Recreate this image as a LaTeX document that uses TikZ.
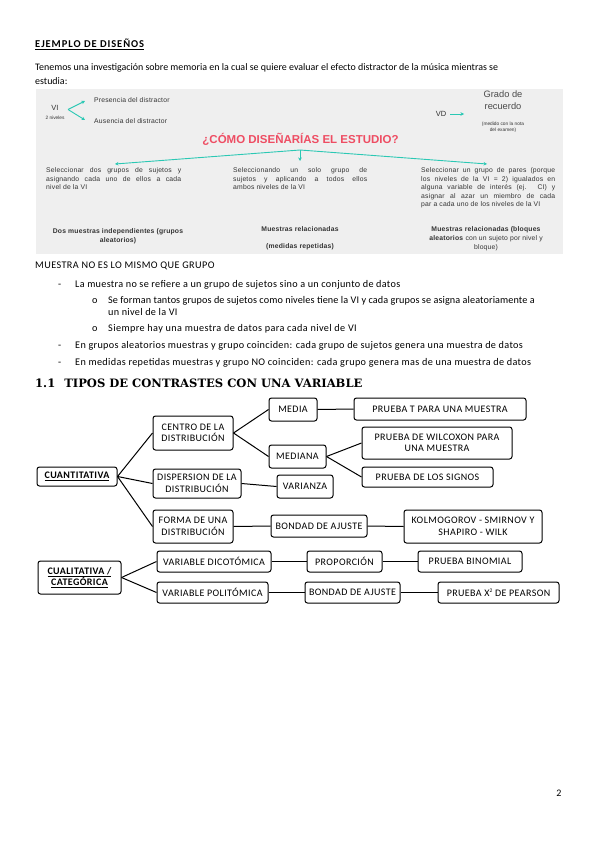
\documentclass[tikz,border=0pt]{standalone}
\usepackage{fontspec}
\setmainfont{Carlito}
\newfontfamily\gfont[LetterSpace=3]{Liberation Sans}
\newfontfamily\gplain{Liberation Sans}
\newfontfamily\hfont{DejaVu Serif}
\newfontfamily\tfont[LetterSpace=4]{Carlito}
\usetikzlibrary{arrows.meta}
\definecolor{tealc}{HTML}{2BC8B4}
\definecolor{redc}{HTML}{EE4D63}
\definecolor{greybg}{HTML}{EFEFEF}
\definecolor{gtext}{HTML}{333333}
\definecolor{gmid}{HTML}{4A4A4A}
\newcommand{\jl}[2]{\makebox[#1][s]{#2}}
\newcommand{\ls}[1]{\addfontfeatures{LetterSpace=#1}}
\begin{document}
\begin{tikzpicture}[x=1pt,y=-1pt,
  txt/.style={anchor=base west, inner sep=0pt, font=\fontsize{10.2}{12}\selectfont},
  gline/.style={anchor=base west, inner sep=0pt, text=gtext, font=\gfont\fontsize{6.8}{7}\selectfont},
  glab/.style={anchor=base, inner sep=0pt, text=gtext, font=\gfont\fontsize{6.8}{7}\selectfont},
  tarrow/.style={draw=tealc, line width=0.9pt, -{Stealth[length=3.5pt,width=3.5pt]}},
  tbox/.style={draw, rounded corners=2.5pt, line width=1pt, align=center, inner sep=0pt, font=\tfont\fontsize{10}{11.5}\selectfont},
  conn/.style={line width=1pt}
]
\fill[white] (0,0) rectangle (599,848);
\useasboundingbox (0,0) rectangle (599,848);

% header text
\node[txt] (t1) at (35,48) {\fontsize{10.5}{12}\selectfont\ls{9}\textbf{\underline{EJEMPLO DE DISEÑOS}}};
\node[txt] (t2) at (35,71) {\fontsize{9.95}{12}\selectfont Tenemos una investigación sobre memoria en la cual se quiere evaluar el efecto distractor de la música mientras se};
\node[txt] (t3) at (35,85) {\fontsize{9.95}{12}\selectfont estudia:};

% grey panel
\fill[greybg] (36,89) rectangle (563,254);

\node[inner sep=0pt, text=gtext, font=\gplain\fontsize{7.5}{8}\selectfont] (vi) at (55,108) {VI};
\node[inner sep=0pt, text=gtext, font=\gplain\fontsize{4.8}{5}\selectfont] (niv) at (55,117.5) {2 niveles};
\coordinate (vis) at (68,109.5);
\coordinate (pe) at (85,101);
\coordinate (ae) at (85,120);
\draw[tarrow] (vis) -- (pe);
\draw[tarrow] (vis) -- (ae);
\node[gline, anchor=west] (pres) at (94,100) {Presencia del distractor};
\node[gline, anchor=west] (aus) at (94,121.5) {Ausencia del distractor};

\node[inner sep=0pt, text=gtext, font=\gplain\fontsize{7.5}{8}\selectfont] (vd) at (441,114) {VD};
\coordinate (vds) at (450,114);
\coordinate (vde) at (464,114);
\draw[tarrow] (vds) -- (vde);
\node[inner sep=0pt, text=gmid, align=center, font=\gplain\fontsize{9.3}{12}\selectfont] (grado) at (503,100) {Grado de\\recuerdo};
\node[inner sep=0pt, text=gtext, align=center, font=\gplain\fontsize{4.8}{6.5}\selectfont] (med) at (503,127.5) {(medido con la nota\\del examen)};

\node[inner sep=0pt, text=redc, font=\gplain\bfseries\fontsize{11.5}{13}\selectfont] (como) at (300.5,139) {¿CÓMO DISEÑARÍAS EL ESTUDIO?};

\coordinate (hub) at (300,150);
\coordinate (la) at (115,164);
\coordinate (ma) at (300,161);
\coordinate (ra) at (487,164);
\draw[tarrow] (hub) -- (la);
\draw[tarrow] (hub) -- (ma);
\draw[tarrow] (hub) -- (ra);

% left block
\node[gline] (l1) at (46,172.5) {\jl{135pt}{Seleccionar dos grupos de sujetos y}};
\node[gline] (l2) at (46,181) {\jl{135pt}{asignando cada uno de ellos a cada}};
\node[gline] (l3) at (46,189.5) {nivel de la VI};
% middle block
\node[gline] (m1) at (233,172.5) {\jl{134pt}{Seleccionando un solo grupo de}};
\node[gline] (m2) at (233,181) {\jl{134pt}{sujetos y aplicando a todos ellos}};
\node[gline] (m3) at (233,189.5) {ambos niveles de la VI};
% right block
\node[gline] (r1) at (421,172.5) {\jl{134pt}{Seleccionar un grupo de pares (porque}};
\node[gline] (r2) at (421,181) {\jl{134pt}{los niveles de la VI = 2) igualados en}};
\node[gline] (r3) at (421,189.5) {\jl{134pt}{alguna variable de interés (ej. CI) y}};
\node[gline] (r4) at (421,198) {\jl{134pt}{asignar al azar un miembro de cada}};
\node[gline] (r5) at (421,206.5) {par a cada uno de los niveles de la VI};

% bottom labels
\node[glab] (ll1) at (118,233) {\bfseries Dos muestras independientes (grupos};
\node[glab] (ll2) at (118,242) {\bfseries aleatorios)};
\node[glab] (ml1) at (300,231) {\bfseries Muestras relacionadas};
\node[glab] (ml2) at (300,248) {\bfseries (medidas repetidas)};
\node[glab] (rl1) at (486,231) {\bfseries Muestras relacionadas (bloques};
\node[glab] (rl2) at (486,240) {\textbf{aleatorios} con un sujeto por nivel y};
\node[glab] (rl3) at (486,249) {bloque)};

% bullets
\node[txt] (mq) at (35,268.5) {\ls{4}MUESTRA NO ES LO MISMO QUE GRUPO};
\node[txt] (d1) at (58,287.5) {-};
\node[txt] (b1) at (75,287.5) {\ls{3}La muestra no se refiere a un grupo de sujetos sino a un conjunto de datos};
\node[txt] (o1) at (92,303.5) {o};
\node[txt] (s1) at (108,303.5) {\ls{1}Se forman tantos grupos de sujetos como niveles tiene la VI y cada grupos se asigna aleatoriamente a};
\node[txt] (s1b) at (108,315.5) {\ls{3}un nivel de la VI};
\node[txt] (o2) at (92,331.5) {o};
\node[txt] (s2) at (108,331.5) {\ls{4}Siempre hay una muestra de datos para cada nivel de VI};
\node[txt] (d2) at (58,348.5) {-};
\node[txt] (b2) at (75,348.5) {\ls{3.3}En grupos aleatorios muestras y grupo coinciden: cada grupo de sujetos genera una muestra de datos};
\node[txt] (d3) at (58,365.5) {-};
\node[txt] (b3) at (75,365.5) {\ls{3.5}En medidas repetidas muestras y grupo NO coinciden: cada grupo genera mas de una muestra de datos};

% heading
\node[anchor=base west, inner sep=0pt, font=\hfont\bfseries\fontsize{11.55}{13}\selectfont] (head) at (35,387) {1.1\hspace{9pt}TIPOS DE CONTRASTES CON UNA VARIABLE};

% tree
\node[tbox, minimum width=48, minimum height=23] (media) at (293,409.5) {MEDIA};
\node[tbox, minimum width=172, minimum height=22] (pruebat) at (440,409) {PRUEBA T PARA UNA MUESTRA};
\node[tbox, minimum width=80, minimum height=34] (centro) at (193,433) {CENTRO DE LA\\DISTRIBUCIÓN};
\node[tbox, minimum width=57, minimum height=23] (mediana) at (297.5,456.5) {MEDIANA};
\node[tbox, minimum width=150, minimum height=32] (wilcoxon) at (437,443) {PRUEBA DE WILCOXON PARA\\UNA MUESTRA};
\node[tbox, minimum width=131, minimum height=20] (signos) at (427.5,477) {PRUEBA DE LOS SIGNOS};
\node[tbox, minimum width=80, minimum height=19] (cuanti) at (77,476.5) {\textbf{\underline{CUANTITATIVA}}};
\node[tbox, minimum width=88, minimum height=29] (dispersion) at (197,483.5) {DISPERSION DE LA\\DISTRIBUCIÓN};
\node[tbox, minimum width=56, minimum height=23] (varianza) at (305,486.5) {VARIANZA};
\node[tbox, minimum width=80, minimum height=33] (forma) at (193,526.5) {FORMA DE UNA\\DISTRIBUCIÓN};
\node[tbox, minimum width=96, minimum height=22] (bondad1) at (319,526) {BONDAD DE AJUSTE};
\node[tbox, minimum width=138, minimum height=33] (kolmo) at (473,526.5) {KOLMOGOROV - SMIRNOV Y\\SHAPIRO - WILK};
\node[tbox, minimum width=114, minimum height=21] (dicot) at (214,561.5) {VARIABLE DICOTÓMICA};
\node[tbox, minimum width=75, minimum height=21] (proporcion) at (344.5,561.5) {PROPORCIÓN};
\node[tbox, minimum width=104, minimum height=21] (binomial) at (470,561.5) {PRUEBA BINOMIAL};
\node[tbox, minimum width=83, minimum height=33] (cuali) at (79.5,577.5) {\textbf{\underline{CUALITATIVA /}}\\\textbf{\underline{CATEGÓRICA}}};
\node[tbox, minimum width=111, minimum height=21] (politom) at (212.5,592.5) {VARIABLE POLITÓMICA};
\node[tbox, minimum width=95, minimum height=21] (bondad2) at (352.5,592.5) {BONDAD DE AJUSTE};
\node[tbox, minimum width=121, minimum height=21] (pearson) at (498.5,592.5) {PRUEBA X\raisebox{3.6pt}{\fontsize{5.5}{6}\selectfont 2} DE PEARSON};

\draw[conn] (cuanti.east) -- (centro.west);
\draw[conn] (cuanti.east) -- (dispersion.west);
\draw[conn] (cuanti.east) -- (forma.west);
\draw[conn] (centro.east) -- (media.west);
\draw[conn] (centro.east) -- (mediana.west);
\draw[conn] (media.east) -- (pruebat.west);
\draw[conn] (mediana.east) -- (wilcoxon.west);
\draw[conn] (mediana.east) -- (signos.west);
\draw[conn] (dispersion.east) -- (varianza.west);
\draw[conn] (forma.east) -- (bondad1.west);
\draw[conn] (bondad1.east) -- (kolmo.west);
\draw[conn] (cuali.east) -- (dicot.west);
\draw[conn] (cuali.east) -- (politom.west);
\draw[conn] (dicot.east) -- (proporcion.west);
\draw[conn] (proporcion.east) -- (binomial.west);
\draw[conn] (politom.east) -- (bondad2.west);
\draw[conn] (bondad2.east) -- (pearson.west);

\node[inner sep=0pt, font=\fontsize{10}{12}\selectfont] (pnum) at (559,793) {2};
\end{tikzpicture}
\end{document}
